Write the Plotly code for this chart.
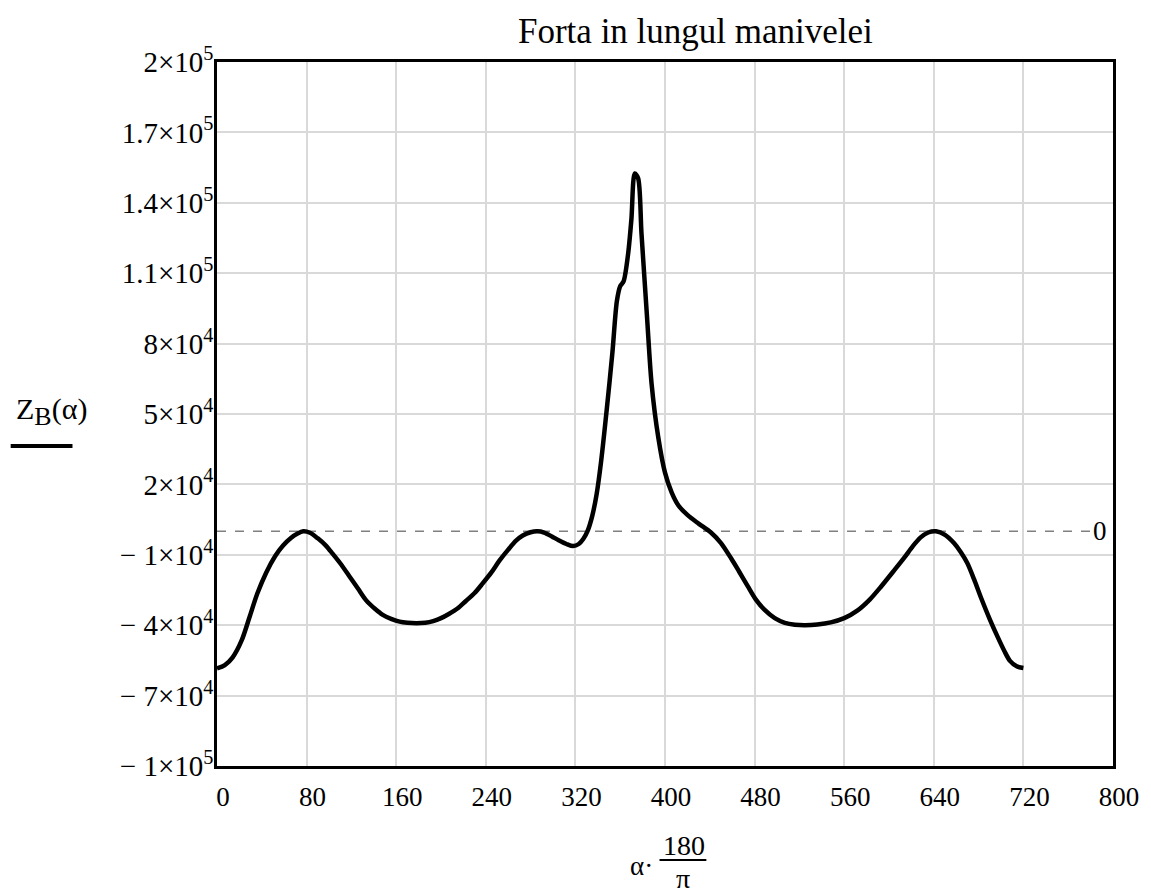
import plotly.graph_objects as go

# Crank angle in degrees (alpha * 180 / pi)
alpha_deg = [0, 7, 14, 22, 29, 36, 44, 52, 59, 66, 72, 77, 83, 90, 97, 103, 110,
             118, 126, 133, 141, 148, 156, 163, 170, 178, 186, 193, 200, 207, 215,
             222, 230, 237, 245, 252, 260, 267, 273, 280, 286, 292, 299, 305, 312,
             318, 323, 327, 331, 335, 339, 343, 348, 353, 357, 360, 363, 367, 370,
             373, 376, 379, 384, 388, 394, 400, 406, 412, 420, 430, 441, 450, 459,
             466, 474, 481, 489, 498, 507, 516, 525, 536, 548, 560, 572, 583, 593,
             604, 614, 621, 628, 635, 642, 650, 658, 664, 670, 676, 682, 690, 697,
             703, 708, 714, 720]

# Force along the crank, Z_B(alpha) [N]
z_b = [-58400, -57000, -53700, -46500, -36600, -26500, -17500, -10500, -6000, -2800,
       -900, 0, -600, -3000, -6000, -9400, -13600, -19000, -24500, -29300, -33000,
       -35600, -37400, -38500, -39000, -39200, -39000, -38300, -37000, -35200, -32800,
       -29800, -26300, -22300, -17500, -12600, -7800, -4000, -1800, -400, 0, -500,
       -2200, -3800, -5400, -6300, -5400, -3300, 300, 6500, 16000, 30000, 52000,
       76000, 98000, 104500, 106500, 118000, 133000, 152500, 150500, 127000, 91000,
       63000, 40000, 25000, 16500, 11000, 7000, 3300, -500, -5000, -11500, -17000,
       -23500, -29000, -33500, -37000, -39000, -39800, -40000, -39700, -38800, -37000,
       -33700, -29000, -23500, -17000, -11000, -6500, -2700, -500, 0, -1500, -5000,
       -8800, -13600, -20500, -28100, -37500, -45000, -51000, -55200, -57500, -58200]

x_ticks = [0, 80, 160, 240, 320, 400, 480, 560, 640, 720, 800]
y_ticks = [-100000, -70000, -40000, -10000, 20000, 50000, 80000, 110000, 140000,
           170000, 200000]
y_ticktext = ["\u2212 1\u00d710<sup>5</sup>", "\u2212 7\u00d710<sup>4</sup>",
              "\u2212 4\u00d710<sup>4</sup>", "\u2212 1\u00d710<sup>4</sup>",
              "2\u00d710<sup>4</sup>", "5\u00d710<sup>4</sup>", "8\u00d710<sup>4</sup>",
              "1.1\u00d710<sup>5</sup>", "1.4\u00d710<sup>5</sup>",
              "1.7\u00d710<sup>5</sup>", "2\u00d710<sup>5</sup>"]

W, H = 1151, 894
L, R, T, B = 217, 1116, 62, 766  # plot area in pixels
FONT = "Liberation Serif"
FS = 27


def px(x):
    return (x - L) / (R - L)


def py(y):
    return (B - y) / (B - T)


def label(x, y, text, size=FS, yref="paper", **kw):
    fig.add_annotation(xref="paper", yref=yref, x=px(x),
                       y=py(y) if yref == "paper" else y,
                       text=text, showarrow=False, xanchor="center",
                       yanchor="middle",
                       font=dict(family=FONT, size=size, color="black"), **kw)


fig = go.Figure()
fig.add_trace(go.Scatter(
    x=alpha_deg, y=z_b, mode="lines",
    line=dict(color="black", width=4.5, shape="spline", smoothing=0.8),
    showlegend=False, hoverinfo="skip",
))

# Zero reference line
fig.add_shape(type="line", xref="paper", yref="y", x0=0, x1=1, y0=0, y1=0,
              line=dict(color="#808080", width=1.5, dash="dash"), layer="below")

# Trace label with its line sample, left of the axis
label(51, 411, "Z<sub><span style='font-size:26px'>B</span></sub>(\u03b1)", size=30)
fig.add_shape(type="line", xref="paper", yref="paper",
              x0=px(10), x1=px(72), y0=py(446), y1=py(446),
              line=dict(color="black", width=4))

# Zero marker on the right edge
label(1103, 0, "0", yref="y", bgcolor="white")

# Chart title
label(697, 31, "Forta in lungul manivelei", size=35)

# X axis title as a fraction: alpha * 180 / pi
label(643, 866, "\u03b1\u00b7")
label(686, 846, "180", size=28)
fig.add_shape(type="line", xref="paper", yref="paper",
              x0=px(661), x1=px(708), y0=py(860), y1=py(860),
              line=dict(color="black", width=2))
label(685, 878, "\u03c0", size=28)

fig.update_xaxes(range=[0, 800], tickvals=x_ticks, showgrid=True,
                 gridcolor="#d9d9d9", gridwidth=1.5, zeroline=False,
                 showline=True, linecolor="black", linewidth=2.5, mirror=True,
                 ticks="", ticklabelstandoff=5, ticklabelshift=6,
                 tickfont=dict(family=FONT, size=FS, color="black"))
fig.update_yaxes(range=[-100000, 200000], tickvals=y_ticks, ticktext=y_ticktext,
                 showgrid=True, gridcolor="#d9d9d9", gridwidth=1.5, zeroline=False,
                 showline=True, linecolor="black", linewidth=2.5, mirror=True,
                 ticks="", ticklabelstandoff=-5,
                 tickfont=dict(family=FONT, size=29, color="black"))

fig.update_layout(width=W, height=H, autosize=False,
                  margin=dict(l=L, r=W - R, t=T, b=H - B),
                  paper_bgcolor="white", plot_bgcolor="white")

fig.write_html("out.html")
